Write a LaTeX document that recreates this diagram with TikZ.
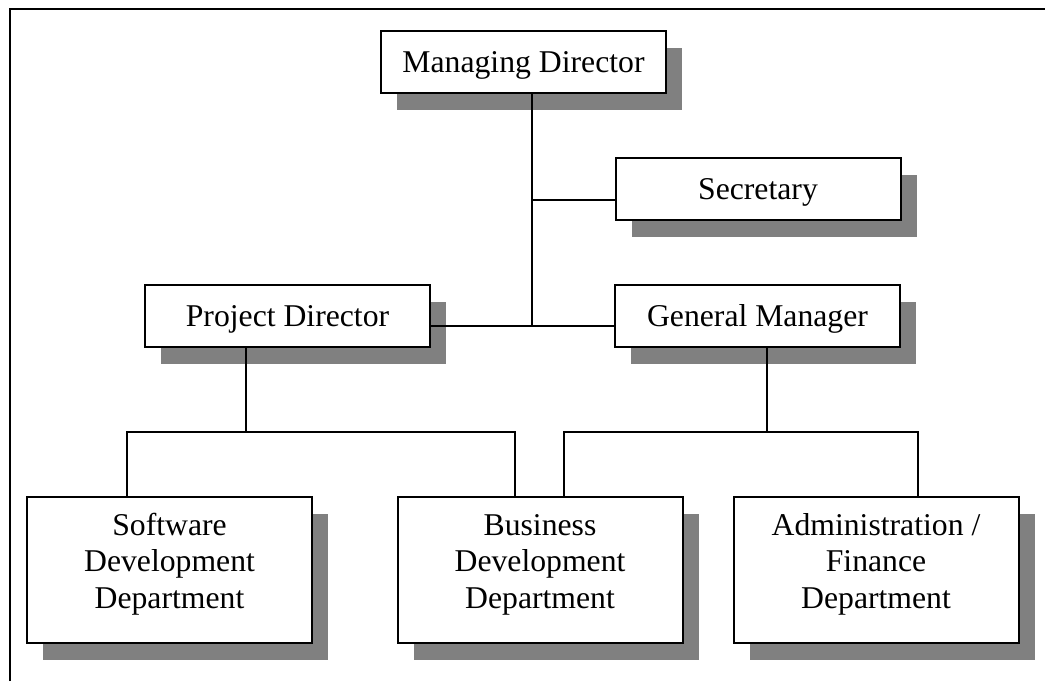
\documentclass[tikz,border=0pt]{standalone}
\usepackage{fontspec}
\setmainfont{Liberation Serif}
\usetikzlibrary{shadows}
\definecolor{shadowgray}{RGB}{128,128,128}
\begin{document}
\begin{tikzpicture}[x=1pt,y=-1pt,
  box/.style={draw, line width=2pt, fill=white, minimum width=285pt, inner sep=0pt,
    align=center, font=\fontsize{31.7}{36.5}\selectfont,
    drop shadow={shadow xshift=16pt, shadow yshift=-17pt, fill=shadowgray, opacity=1}},
  smallbox/.style={box, minimum height=62pt, text height=28pt, text depth=7pt},
  bigbox/.style={box, minimum height=146pt},
  link/.style={line width=1.5pt}]
\useasboundingbox (0,0) rectangle (1045,681);
% frame
\draw[link] (10,681) -- (10,9) -- (1045,9);
% boxes
\node[smallbox] (md) at (523.5,61.5) {Managing Director};
\node[smallbox] (sec) at (758,189) {Secretary};
\node[smallbox] (pd) at (287.5,316) {Project Director};
\node[smallbox] (gm) at (757.5,316) {General Manager};
\node[bigbox] (sw) at (169.5,570) {\rule{0pt}{22pt}Software\\Development\\Department\rule[-19pt]{0pt}{0pt}};
\node[bigbox] (bd) at (540,570) {\rule{0pt}{22pt}Business\\Development\\Department\rule[-19pt]{0pt}{0pt}};
\node[bigbox] (af) at (876,570) {\rule{0pt}{22pt}Administration /\\Finance\\Department\rule[-19pt]{0pt}{0pt}};
% junctions
\coordinate (j1) at (532,326);
\coordinate (j2) at (532,200);
\coordinate (p) at (246,432);
\coordinate (g) at (767,432);
\coordinate (d1) at (127,432);
\coordinate (d2) at (515,432);
\coordinate (d3) at (564,432);
\coordinate (d4) at (918,432);
% connectors
\draw[link] (md.south -| j1) -- (j1);
\draw[link] (j2) -- (j2 -| sec.west);
\draw[link] (pd.east |- j1) -- (j1) -- (gm.west |- j1);
\draw[link] (pd.south -| p) -- (p);
\draw[link] (gm.south -| g) -- (g);
\draw[link] (sw.north -| d1) -- (d1) -- (d2) -- (bd.north -| d2);
\draw[link] (bd.north -| d3) -- (d3) -- (d4) -- (af.north -| d4);
\end{tikzpicture}
\end{document}
